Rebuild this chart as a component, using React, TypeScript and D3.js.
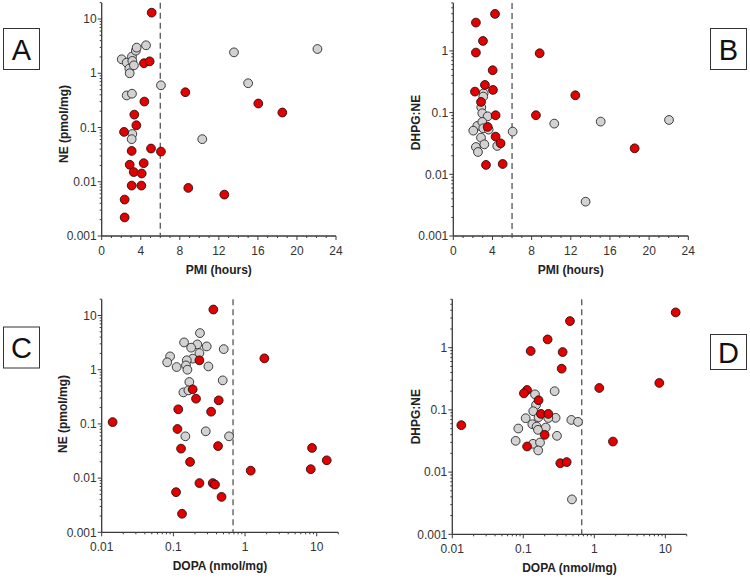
import React from "react";
import * as d3 from "d3";

// [x, y] pairs
// A: PMI (hours) vs NE (pmol/mg)
const aGrey: [number, number][] = [
  [2.05, 1.81], [2.56, 1.57], [3.1, 2.03], [3.14, 1.69], [2.83, 1.22], [2.87, 1.0],
  [3.3, 1.4], [3.5, 2.61], [3.58, 2.97], [4.54, 3.28], [6.07, 0.6], [2.56, 0.39],
  [3.1, 0.42], [3.14, 0.076], [3.07, 0.061], [10.3, 0.061], [13.55, 2.43],
  [15.0, 0.655], [22.1, 2.8],
];
const aRed: [number, number][] = [
  [5.12, 13.1], [4.33, 1.53], [4.91, 1.66], [4.37, 0.301], [8.57, 0.447],
  [3.34, 0.173], [3.55, 0.11], [2.29, 0.083], [3.07, 0.037], [5.05, 0.041],
  [6.07, 0.036], [2.87, 0.0206], [4.3, 0.022], [3.28, 0.0151], [4.1, 0.0142],
  [3.07, 0.0085], [4.06, 0.0085], [8.87, 0.0077], [12.56, 0.0058], [2.35, 0.0047],
  [2.35, 0.0022], [16.04, 0.277], [18.5, 0.189],
];

// B: PMI (hours) vs DHPG:NE
const bGrey: [number, number][] = [
  [3.1, 0.205], [3.06, 0.182], [2.86, 0.122], [2.96, 0.0975], [3.51, 0.087],
  [2.45, 0.0608], [2.96, 0.0706], [2.04, 0.051], [3.06, 0.0557], [3.61, 0.053],
  [2.83, 0.0393], [2.31, 0.0277], [3.17, 0.0306], [2.52, 0.023], [4.49, 0.0288],
  [6.06, 0.0492], [10.31, 0.0663], [15.05, 0.0715], [22.03, 0.076], [13.51, 0.0036],
];
const bRed: [number, number][] = [
  [4.26, 3.98], [2.31, 2.88], [3.03, 1.45], [2.31, 0.94], [8.82, 0.916],
  [4.02, 0.486], [3.23, 0.281], [4.05, 0.233], [2.21, 0.219], [12.46, 0.191],
  [2.83, 0.149], [4.32, 0.0906], [8.44, 0.0906], [3.51, 0.0586], [4.32, 0.0408],
  [4.83, 0.0318], [3.34, 0.0142], [5.04, 0.0147], [18.52, 0.0264],
];

// C: DOPA (nmol/mg) vs NE (pmol/mg)
const cGrey: [number, number][] = [
  [0.235, 4.74], [0.141, 3.19], [0.216, 2.93], [0.292, 2.69], [0.177, 2.55],
  [0.504, 2.4], [0.231, 2.03], [0.09, 1.76], [0.082, 1.37], [0.186, 1.6],
  [0.154, 1.49], [0.111, 1.12], [0.15, 1.2], [0.157, 1.0], [0.308, 1.15],
  [0.167, 0.593], [0.488, 0.636], [0.138, 0.382], [0.162, 0.416], [0.147, 0.059],
  [0.283, 0.073], [0.598, 0.059],
];
const cRed: [number, number][] = [
  [0.361, 12.9], [0.231, 1.49], [1.86, 1.62], [0.186, 0.434], [0.207, 0.292],
  [0.429, 0.272], [0.117, 0.186], [0.336, 0.168], [0.0142, 0.108], [0.114, 0.0805],
  [0.42, 0.039], [0.128, 0.035], [0.171, 0.0199], [8.6, 0.036], [13.8, 0.0213],
  [8.25, 0.0146], [1.2, 0.0137], [0.231, 0.0081], [0.354, 0.0081], [0.381, 0.0076],
  [0.109, 0.0055], [0.47, 0.0045], [0.132, 0.0022],
];

// D: DOPA (nmol/mg) vs DHPG:NE
const dGrey: [number, number][] = [
  [0.276, 0.2], [0.146, 0.178], [0.151, 0.12], [0.138, 0.0952], [0.164, 0.0762],
  [0.108, 0.0735], [0.285, 0.0745], [0.225, 0.074], [0.475, 0.069], [0.589, 0.0642],
  [0.134, 0.0589], [0.154, 0.054], [0.207, 0.052], [0.161, 0.0478], [0.085, 0.0502],
  [0.298, 0.0383], [0.078, 0.0318], [0.137, 0.0285], [0.172, 0.0299], [0.162, 0.0223],
  [0.484, 0.00364],
];
const dRed: [number, number][] = [
  [14.0, 3.69], [0.454, 2.68], [0.22, 1.36], [0.127, 0.885], [0.358, 0.852],
  [0.347, 0.46], [1.175, 0.225], [8.23, 0.271], [0.113, 0.209], [0.102, 0.185],
  [0.164, 0.143], [0.177, 0.0863], [0.225, 0.0863], [0.0134, 0.0568], [0.2, 0.0397],
  [1.83, 0.031], [0.113, 0.0258], [0.332, 0.0139], [0.408, 0.0145],
];

const pmiTicks = [0, 4, 8, 12, 16, 20, 24];
const dopaTicks = [0.01, 0.1, 1, 10];
const neTicks = [0.001, 0.01, 0.1, 1, 10];
const ratioTicks = [0.001, 0.01, 0.1, 1];

const FONT = "Arial, 'Liberation Sans', sans-serif";
const AXIS = "#3a3a3a";
const RED = "#e30000";
const GREY = "#d2d2d2";

function logMinors(domain: [number, number]) {
  const out: number[] = [];
  for (let e = Math.floor(Math.log10(domain[0])); e <= Math.ceil(Math.log10(domain[1])); e++) {
    for (let m = 2; m <= 9; m++) {
      const v = m * Math.pow(10, e);
      if (v >= domain[0] && v <= domain[1]) out.push(v);
    }
  }
  return out;
}

interface PanelProps {
  left: number; right: number; top: number; bottom: number;
  xLog: boolean; xDomain: [number, number]; yDomain: [number, number];
  xTicks: number[]; yTicks: number[];
  xTitle: string; yTitle: string; yTitleX: number; yTitleY: number;
  grey: [number, number][]; red: [number, number][];
  cutoff: number;
  label: string; box: [number, number, number, number];
}

function Panel(p: PanelProps) {
  const x = p.xLog
    ? d3.scaleLog().domain(p.xDomain).range([p.left, p.right])
    : d3.scaleLinear().domain(p.xDomain).range([p.left, p.right]);
  const y = d3.scaleLog().domain(p.yDomain).range([p.bottom, p.top]);
  const xMinor = p.xLog ? logMinors(p.xDomain) : d3.range(p.xDomain[0], p.xDomain[1] + 1, 1).filter((v) => v % 4 !== 0);
  const yMinor = logMinors(p.yDomain);
  const r = 4.4;

  return (
    <g fontFamily={FONT}>
      {/* minor ticks */}
      {xMinor.map((v, i) => (
        <line key={"xm" + i} x1={x(v)} x2={x(v)} y1={p.bottom} y2={p.bottom + 2} stroke={AXIS} strokeWidth={1} />
      ))}
      {yMinor.map((v, i) => (
        <line key={"ym" + i} x1={p.left - 2} x2={p.left} y1={y(v)} y2={y(v)} stroke={AXIS} strokeWidth={1} />
      ))}
      {p.xTicks.map((v, i) => (
        <g key={"xt" + i}>
          <line x1={x(v)} x2={x(v)} y1={p.bottom} y2={p.bottom + 4} stroke={AXIS} strokeWidth={1} />
          <text x={x(v)} y={p.bottom + 18.5} fontSize={12} fill="#333" textAnchor="middle">{String(v)}</text>
        </g>
      ))}
      {p.yTicks.map((v, i) => (
        <g key={"yt" + i}>
          <line x1={p.left - 4} x2={p.left} y1={y(v)} y2={y(v)} stroke={AXIS} strokeWidth={1} />
          <text x={p.left - 5} y={y(v) + 4.2} fontSize={12} fill="#333" textAnchor="end">{String(v)}</text>
        </g>
      ))}
      <line x1={p.left} x2={p.left} y1={p.top} y2={p.bottom} stroke={AXIS} strokeWidth={1.3} />
      <line x1={p.left} x2={p.right} y1={p.bottom} y2={p.bottom} stroke={AXIS} strokeWidth={1.3} />
      <line x1={x(p.cutoff)} x2={x(p.cutoff)} y1={p.top} y2={p.bottom} stroke="#555" strokeWidth={1.3} strokeDasharray="6,4" />
      {p.grey.map((d, i) => (
        <circle key={"g" + i} cx={x(d[0])} cy={y(d[1])} r={r} fill={GREY} stroke="#2a2a2a" strokeWidth={0.9} />
      ))}
      {p.red.map((d, i) => (
        <circle key={"r" + i} cx={x(d[0])} cy={y(d[1])} r={r} fill={RED} stroke="#2a1010" strokeWidth={0.9} />
      ))}
      <text x={(p.left + p.right) / 2} y={p.bottom + 37.5} fontSize={12} fontWeight="bold" fill="#222" textAnchor="middle">{p.xTitle}</text>
      <text transform={`translate(${p.yTitleX},${p.yTitleY}) rotate(-90)`} fontSize={12} fontWeight="bold" fill="#222" textAnchor="middle">{p.yTitle}</text>
      <rect x={p.box[0]} y={p.box[1]} width={p.box[2]} height={p.box[3]} fill="#fff" stroke="#333" strokeWidth={1} />
      <text x={p.box[0] + p.box[2] / 2} y={p.box[1] + p.box[3] / 2 + 10.5} fontSize={29} fill="#111" textAnchor="middle">{p.label}</text>
    </g>
  );
}

export default function App() {
  return (
    <svg width={750} height={578} style={{ position: "absolute", left: 0, top: 0, background: "#fff" }}>
      <rect width={750} height={578} fill="#fff" />
      <Panel left={101.7} right={336} top={2.7} bottom={236} xLog={false} xDomain={[0, 24]} yDomain={[0.001, 20]}
        xTicks={pmiTicks} yTicks={neTicks} xTitle="PMI (hours)" yTitle="NE (pmol/mg)" yTitleX={68} yTitleY={124}
        grey={aGrey} red={aRed} cutoff={6} label="A" box={[3.5, 28.5, 36, 41]} />
      <Panel left={453.3} right={688.3} top={2.9} bottom={236} xLog={false} xDomain={[0, 24]} yDomain={[0.001, 6]}
        xTicks={pmiTicks} yTicks={ratioTicks} xTitle="PMI (hours)" yTitle="DHPG:NE" yTitleX={419.5} yTitleY={122.5}
        grey={bGrey} red={bRed} cutoff={6} label="B" box={[710.5, 28.5, 36, 41]} />
      <Panel left={101.7} right={338.3} top={299.2} bottom={532.3} xLog={true} xDomain={[0.01, 20]} yDomain={[0.001, 20]}
        xTicks={dopaTicks} yTicks={neTicks} xTitle="DOPA (nmol/mg)" yTitle="NE (pmol/mg)" yTitleX={66.5} yTitleY={414}
        grey={cGrey} red={cRed} cutoff={0.68} label="C" box={[3.5, 327, 36, 41]} />
      <Panel left={452.3} right={686.7} top={299.3} bottom={534.3} xLog={true} xDomain={[0.01, 20]} yDomain={[0.001, 6]}
        xTicks={dopaTicks} yTicks={ratioTicks} xTitle="DOPA (nmol/mg)" yTitle="DHPG:NE" yTitleX={419.5} yTitleY={416.7}
        grey={dGrey} red={dRed} cutoff={0.665} label="D" box={[710.5, 334.5, 36, 35]} />
    </svg>
  );
}
